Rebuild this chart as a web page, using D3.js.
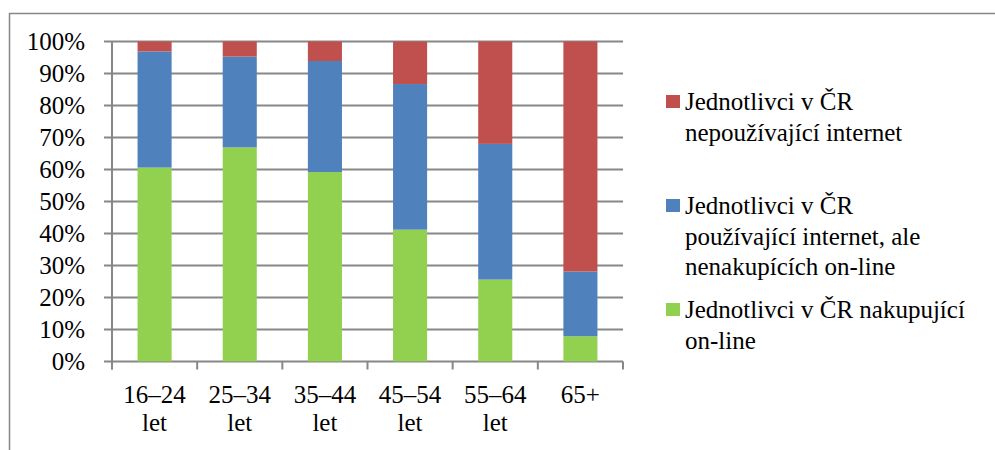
<!DOCTYPE html>
<html>
<head>
<meta charset="utf-8">
<script src="https://cdn.jsdelivr.net/npm/d3@7"></script>
<style>
  html, body { margin: 0; padding: 0; background: #fff; }
  svg { display: block; }
</style>
</head>
<body>
<svg id="fig" width="995" height="450"></svg>
<script>
// Age groups (two-line labels)
const categories = ["16–24 let", "25–34 let", "35–44 let", "45–54 let", "55–64 let", "65+"];
const categoryLines = [["16–24", "let"], ["25–34", "let"], ["35–44", "let"], ["45–54", "let"], ["55–64", "let"], ["65+"]];

// Shares of individuals in each age group (%)
const shopping = [60.6, 66.9, 59.2, 41.2, 25.6, 7.9];      // shopping on-line
const notShopping = [36.3, 28.4, 34.7, 45.5, 42.4, 20.2];  // using internet but not shopping
const noInternet = [3.1, 4.7, 6.1, 13.3, 32.0, 71.9];      // not using internet

const yTicks = [0, 10, 20, 30, 40, 50, 60, 70, 80, 90, 100];

const seriesColors = ["#92D050", "#4F81BD", "#C0504D"];

// Legend entries, top to bottom, with wrapped lines
const legendItems = [
  { color: "#C0504D", lines: ["Jednotlivci v ČR", "nepoužívající internet"] },
  { color: "#4F81BD", lines: ["Jednotlivci v ČR", "používající internet, ale", "nenakupících on-line"] },
  { color: "#92D050", lines: ["Jednotlivci v ČR nakupující", "on-line"] }
];

const FS = 25;

// Serif text styling applied directly to each text node
function serif(sel) {
  return sel.attr("font-size", FS).attr("fill", "#000")
    .each(function () {
      this.style.setProperty("font-family", "'Liberation Serif'", "important");
    });
}

const svg = d3.select("#fig");
const gridColor = "#878787";

// Outer frame
svg.append("rect")
  .attr("x", 9.5).attr("y", 13.5)
  .attr("width", 1000).attr("height", 500)
  .attr("fill", "none").attr("stroke", gridColor).attr("stroke-width", 1.5);

const plot = { left: 112, right: 623, top: 41.5, bottom: 361.5 };

const x = d3.scaleBand().domain(categories).range([plot.left, plot.right]).paddingInner(0.6).paddingOuter(0.3);
const xOuter = d3.scaleBand().domain(categories).range([plot.left, plot.right]);
const y = d3.scaleLinear().domain([0, 100]).range([plot.bottom, plot.top]);

// Horizontal gridlines with short outward ticks
svg.append("g").selectAll("line").data(yTicks).join("line")
  .attr("x1", plot.left - 8).attr("x2", plot.right)
  .attr("y1", d => y(d)).attr("y2", d => y(d))
  .attr("stroke", gridColor).attr("stroke-width", 2);

// Y axis labels
serif(svg.append("g").selectAll("text").data(yTicks).join("text"))
  .attr("x", 85).attr("y", d => y(d) + 8)
  .attr("text-anchor", "end")
  .text(d => d + "%");

// Stacked bars
const rows = categories.map((c, i) => ({ cat: c, s0: shopping[i], s1: notShopping[i], s2: noInternet[i] }));
const stacked = d3.stack().keys(["s0", "s1", "s2"])(rows);

svg.append("g").selectAll("g").data(stacked).join("g")
  .attr("fill", (d, i) => seriesColors[i])
  .selectAll("rect").data(d => d).join("rect")
  .attr("x", d => x(d.data.cat))
  .attr("width", x.bandwidth())
  .attr("y", d => y(d[1]))
  .attr("height", d => y(d[0]) - y(d[1]));

// Y axis line
svg.append("line")
  .attr("x1", plot.left).attr("x2", plot.left)
  .attr("y1", plot.top).attr("y2", plot.bottom + 8)
  .attr("stroke", gridColor).attr("stroke-width", 2);

// X axis ticks at category boundaries
const boundaries = categories.map(c => xOuter(c)).concat([plot.right]);
svg.append("g").selectAll("line").data(boundaries).join("line")
  .attr("x1", d => d).attr("x2", d => d)
  .attr("y1", plot.bottom).attr("y2", plot.bottom + 8)
  .attr("stroke", gridColor).attr("stroke-width", 2);

// Category labels, one text node per line
const labelLines = [];
categories.forEach((c, i) => {
  categoryLines[i].forEach((line, j) => {
    labelLines.push({ text: line, cx: xOuter(c) + xOuter.bandwidth() / 2, row: j });
  });
});
serif(svg.append("g").selectAll("text").data(labelLines).join("text"))
  .attr("text-anchor", "middle")
  .attr("x", d => d.cx)
  .attr("y", d => 403 + d.row * 28)
  .text(d => d.text);

// Legend
const legendTop = [110, 214, 318];
const lg = svg.append("g");
legendItems.forEach((item, i) => {
  lg.append("rect")
    .attr("x", 666).attr("y", legendTop[i] - 15)
    .attr("width", 14).attr("height", 13)
    .attr("fill", item.color);
  serif(lg.selectAll(null).data(item.lines).join("text"))
    .attr("x", 685)
    .attr("y", (d, j) => legendTop[i] + j * 30.5)
    .text(d => d);
});
</script>
</body>
</html>
